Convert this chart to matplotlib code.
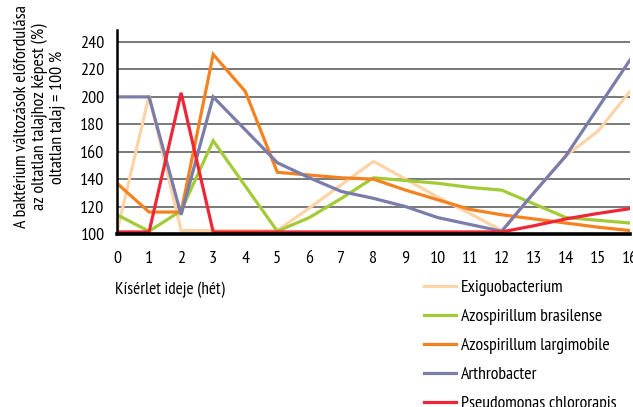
import matplotlib
matplotlib.use('Agg')
import matplotlib.pyplot as plt

plt.rcParams['font.family'] = ['PT Sans Narrow', 'DejaVu Sans']

weeks = list(range(17))
exiguo = [101.5, 201, 102.5, 102.5, 102.5, 102.5, 119, 136, 153, 140, 127, 115, 102.5, 130, 157, 175, 204]
brasilense = [114, 102, 117, 168, 135, 102, 112, 126, 141, 139, 137, 134, 132, 122, 112, 110, 108]
largimobile = [137, 116, 116, 231, 204, 145, 143, 141, 140, 132, 125, 118, 114, 111, 108, 105, 102.5]
arthro = [200, 200, 114, 200, 176, 152, 141, 131, 126, 120, 112, 107, 102, 130, 157, 192, 227]
pseudo = [101.5, 101.5, 203, 101.5, 101.5, 101.5, 101.5, 101.5, 101.5, 101.5, 101.5, 101.5, 101.5, 106, 111, 115, 118.5]

names = ['Exiguobacterium', 'Azospirillum brasilense', 'Azospirillum largimobile',
         'Arthrobacter', 'Pseudomonas chlororapis']
colors = ['#FDD3A8', '#A3CB38', '#F58220', '#7A7CAA', '#EE2737']
yticks = [100, 120, 140, 160, 180, 200, 220, 240]

fig = plt.figure(figsize=(6.33, 4.07), dpi=100)
ax = fig.add_axes([117 / 633, 1 - 234 / 407, (630 - 117) / 633, (234 - 30) / 407])

series = [exiguo, brasilense, largimobile, arthro, pseudo]
handles = []
for vals, name, c in zip(series, names, colors):
    h, = ax.plot(weeks, vals, color=c, lw=2.3, label=name, solid_joinstyle='miter')
    handles.append(h)

ax.set_xlim(0, 16)
ax.set_ylim(100, 248.8)
ax.set_yticks(yticks)
ax.set_xticks(weeks)
ax.yaxis.grid(True, color='#555555', lw=1.1)
ax.set_axisbelow(True)
for s in ['top', 'right']:
    ax.spines[s].set_visible(False)
ax.spines['left'].set_linewidth(1.8)
ax.spines['bottom'].set_linewidth(2.6)
ax.tick_params(axis='both', length=0, labelsize=13)
ax.tick_params(axis='y', pad=9)
ax.tick_params(axis='x', pad=12)

fig.text(115 / 633, 1 - 290 / 407, 'Kísérlet ideje (hét)', ha='left', va='center', fontsize=12.3)
fig.text(40 / 633, 1 - 117 / 407,
         'A baktérium változások előfordulása\naz oltatlan talajhoz képest (%)\noltatlan talaj = 100 %',
         rotation=90, ha='center', va='center', multialignment='center', fontsize=12.9,
         linespacing=1.15)

fig.legend(handles=handles, labels=names, loc='upper left',
           bbox_to_anchor=(424 / 633, 1 - 280 / 407), frameon=False, fontsize=12.8,
           handlelength=1.8, handletextpad=0.3, labelspacing=0.7, borderpad=0,
           borderaxespad=0)

fig.savefig('out.png', dpi=100)
